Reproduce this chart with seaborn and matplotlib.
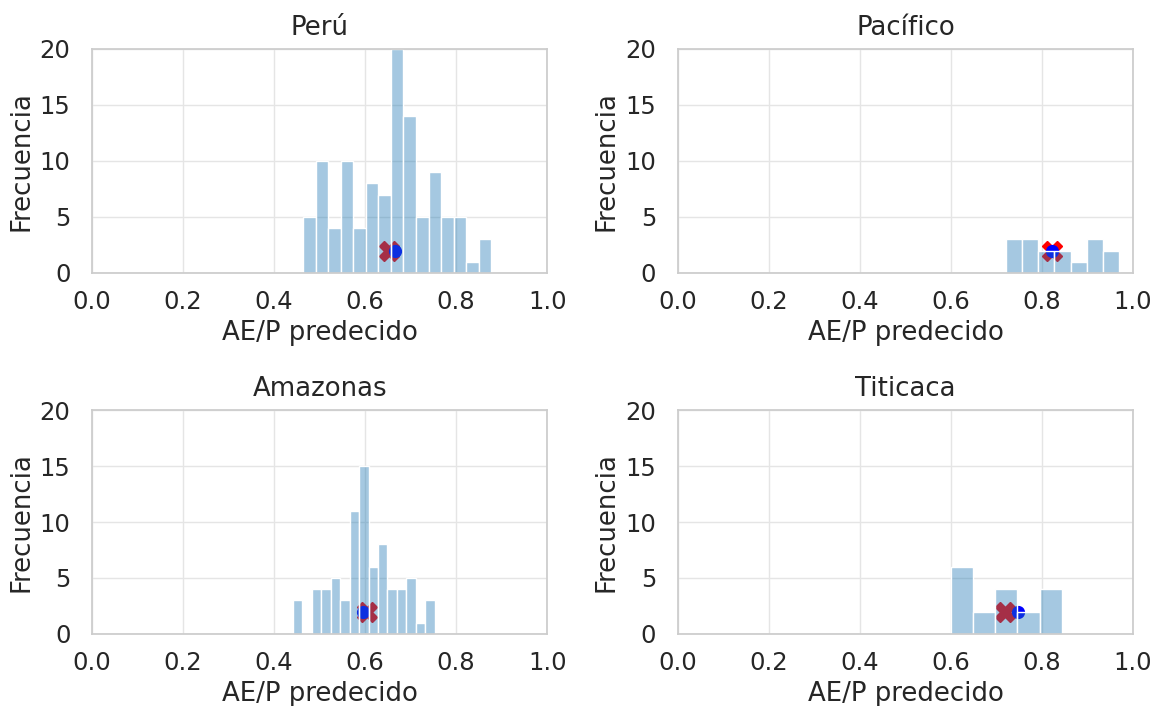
import numpy as np
import pandas as pd
import matplotlib
matplotlib.use("Agg")
import matplotlib.pyplot as plt
import seaborn as sns

# ---- data ----
regions = ["Perú", "Pacífico", "Amazonas", "Titicaca"]

peru_range = (0.464, 0.877)
peru_counts = [5, 10, 4, 10, 4, 8, 7, 20, 14, 5, 9, 5, 5, 1, 3]

pacifico_range = (0.720, 0.970)
pacifico_counts = [3, 3, 2, 2, 1, 3, 2]

amazonas_range = (0.4415, 0.7529)
amazonas_counts = [3, 0, 4, 4, 5, 3, 11, 15, 6, 8, 4, 4, 5, 1, 3]

titicaca_range = (0.6006, 0.8430)
titicaca_counts = [6, 2, 4, 2, 4]

x_marker_x = [0.653, 0.822, 0.603, 0.718]   # red X
dot_marker_x = [0.665, 0.822, 0.595, 0.747]  # blue dot
marker_y = [2, 2, 2, 2]

xticks = [0.0, 0.2, 0.4, 0.6, 0.8, 1.0]
yticks = [0, 5, 10, 15, 20]

ranges_list = [peru_range, pacifico_range, amazonas_range, titicaca_range]
counts_list = [peru_counts, pacifico_counts, amazonas_counts, titicaca_counts]

sns.set_theme(style="whitegrid")
plt.rcParams["font.family"] = ["DejaVu Sans"]
plt.rcParams["axes.edgecolor"] = "#cccccc"
plt.rcParams["axes.linewidth"] = 1.25

fig, axes = plt.subplots(2, 2, figsize=(11.59, 7.06), dpi=100)
fig.subplots_adjust(left=0.0794, right=0.9776, top=0.9306, bottom=0.102,
                    wspace=0.287, hspace=0.612)

for ax, name, rng, counts, xm, dm, ym in zip(axes.flat, regions, ranges_list,
                                            counts_list, x_marker_x,
                                            dot_marker_x, marker_y):
    n = len(counts)
    edges = np.linspace(rng[0], rng[1], n + 1)
    centers = (edges[:-1] + edges[1:]) / 2
    df = pd.DataFrame({"x": centers, "w": np.asarray(counts, dtype=float)})
    ax.plot([xm], [ym], marker="X", color="red", ms=15, ls="none", zorder=1)
    ax.plot([dm], [ym], marker="o", color="blue", ms=8.5, ls="none", zorder=1)
    sns.histplot(data=df, x="x", weights="w", bins=n, binrange=rng,
                 color="#1f77b4", alpha=0.4, edgecolor="white", linewidth=1,
                 ax=ax, zorder=2)
    ax.set_xlim(0, 1)
    ax.set_ylim(0, 20)
    ax.set_xticks(xticks)
    ax.set_yticks(yticks)
    ax.tick_params(axis="y", labelsize=17.5, pad=9.5)
    ax.tick_params(axis="x", labelsize=17.5, pad=6.5)
    ax.set_title(name, fontsize=18.7, pad=10)
    ax.set_xlabel("AE/P predecido", fontsize=18.7, labelpad=4)
    ax.set_ylabel("Frecuencia", fontsize=18.7, labelpad=4)
    ax.grid(True, color="#e5e5e5", linewidth=1)
    ax.set_axisbelow(True)

fig.savefig("out.png", dpi=100)
